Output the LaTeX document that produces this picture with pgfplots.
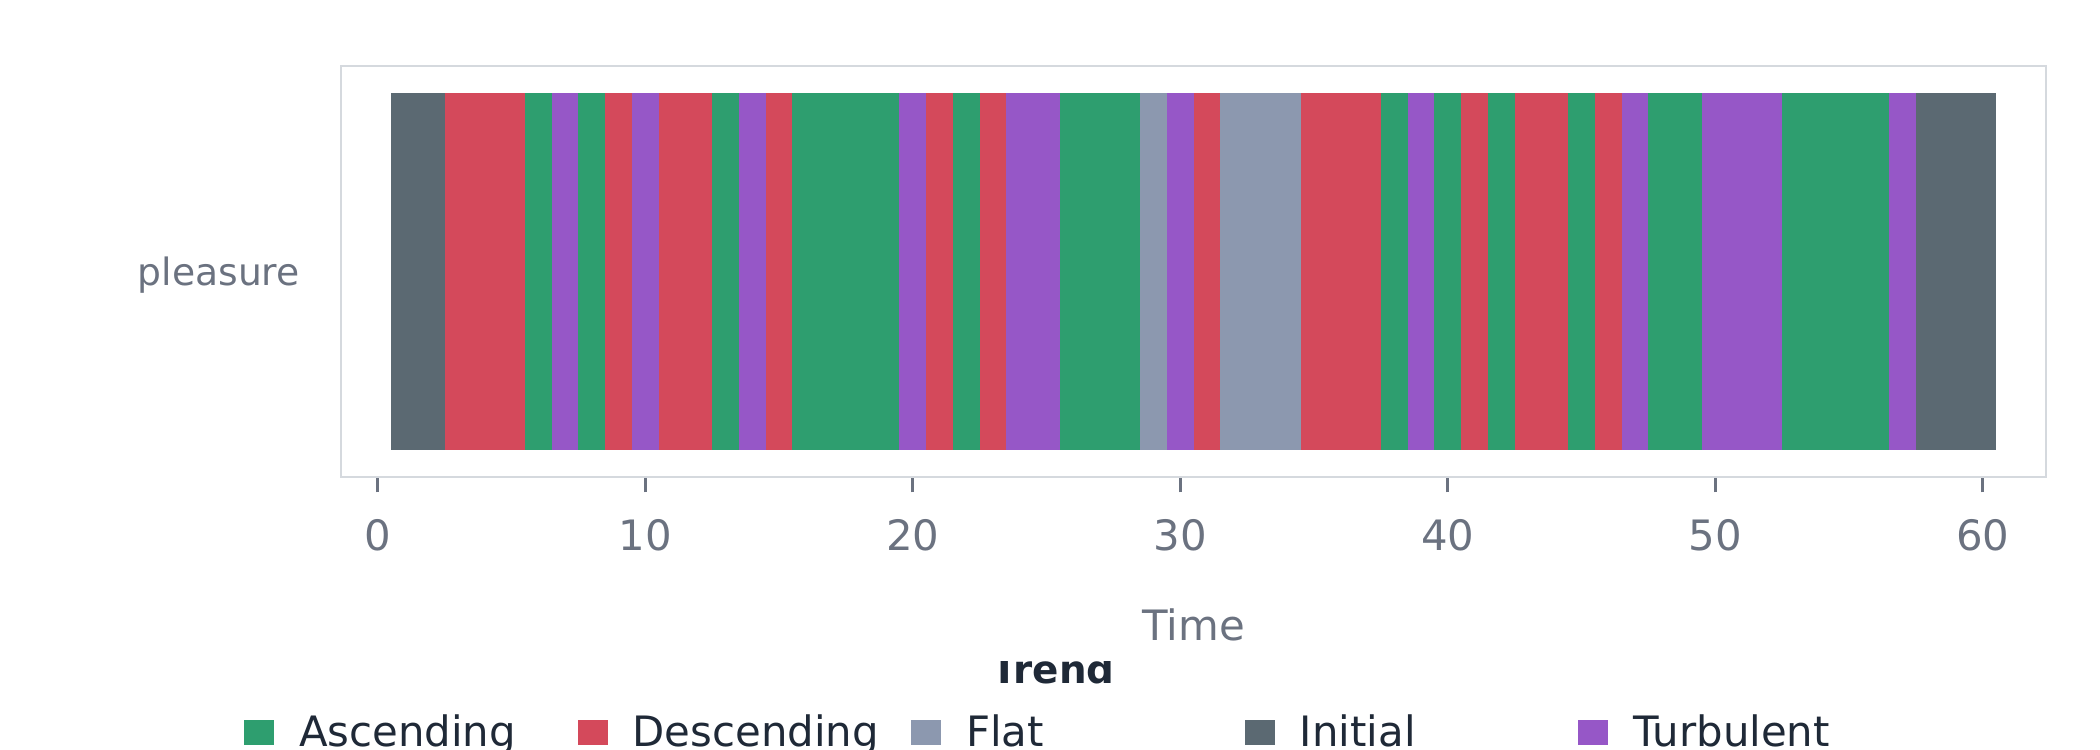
\documentclass[border=0pt]{standalone}
\usepackage{pgfplots}
\pgfplotsset{compat=1.18}
\usepackage{fontspec}
\setmainfont{DejaVu Sans}
\definecolor{asc}{HTML}{2E9E6F}
\definecolor{desc}{HTML}{D4495B}
\definecolor{flat}{HTML}{8C98AF}
\definecolor{init}{HTML}{5B6972}
\definecolor{turb}{HTML}{9657C7}
\definecolor{framegray}{HTML}{D5D9DE}
\definecolor{tickgray}{HTML}{6B7280}
\definecolor{textdark}{HTML}{1F2937}
\pgfplotsset{sqlegend/.style={legend image code/.code={\path[##1,draw=none] (0bp,-4.15bp) rectangle (10bp,4.15bp);}}}
\newcommand{\seg}[2]{\addplot[fill=#1,draw=none] coordinates {(#2,0)};}
\begin{document}
\begin{tikzpicture}
\path[use as bounding box] (0bp,0bp) rectangle (700bp,250bp);
\begin{scope}
\clip (0bp,0bp) rectangle (700bp,29.4bp);
\node[font=\bfseries\fontsize{13}{15}\selectfont, text=textdark, anchor=base, inner sep=0pt] at (351bp,22.2bp) {Trend};
\end{scope}
\begin{axis}[
  at={(113.8bp,90.9bp)}, anchor=south west,
  scale only axis, width=568.1bp, height=137.2bp,
  xbar stacked, bar width=0.869,
  xmin=-1.357, xmax=62.357, ymin=-0.5, ymax=0.5,
  axis line style={draw=framegray, line width=0.7bp},
  xtick={0,10,20,30,40,50,60},
  ytick={0}, yticklabels={pleasure},
  xtick pos=bottom, ytick pos=left,
  tick align=outside,
  major tick length=5bp,
  x tick style={draw=tickgray, line width=0.9bp},
  y tick style={draw=none},
  /pgf/number format/assume math mode=true,
  xticklabel style={font=\fontsize{14}{16}\selectfont, text=tickgray, anchor=base, inner sep=0pt, yshift=-19.3bp},
  yticklabel style={font=\fontsize{12.6}{15}\selectfont, text=tickgray, anchor=east, inner sep=0pt, xshift=-8.7bp, yshift=-1.3bp},
  xlabel={Time},
  xlabel style={font=\fontsize{14}{16}\selectfont, text=tickgray, at={(axis description cs:0.5,0)}, anchor=base, inner sep=0pt, yshift=-54.5bp},
  legend columns=5,
  legend style={draw=none, fill=none, inner sep=0pt, outer sep=0pt,
    nodes={inner sep=0pt, text=textdark, font=\fontsize{14}{16}\selectfont},
    column sep=0pt,
    /tikz/every odd column/.append style={column sep=8.4bp},
    at={(axis description cs:-0.0572,-0.6203)}, anchor=west},
  legend entries={\makebox[92.8bp][l]{Ascending},\makebox[92.8bp][l]{Descending},\makebox[92.8bp][l]{Flat},\makebox[92.8bp][l]{Initial},\makebox[92.8bp][l]{Turbulent}},
]
\addlegendimage{sqlegend, fill=asc}
\addlegendimage{sqlegend, fill=desc}
\addlegendimage{sqlegend, fill=flat}
\addlegendimage{sqlegend, fill=init}
\addlegendimage{sqlegend, fill=turb}
\addplot[fill=none,draw=none] coordinates {(0.5,0)};
\seg{init}{2}
\seg{desc}{3}
\seg{asc}{1}
\seg{turb}{1}
\seg{asc}{1}
\seg{desc}{1}
\seg{turb}{1}
\seg{desc}{2}
\seg{asc}{1}
\seg{turb}{1}
\seg{desc}{1}
\seg{asc}{4}
\seg{turb}{1}
\seg{desc}{1}
\seg{asc}{1}
\seg{desc}{1}
\seg{turb}{2}
\seg{asc}{3}
\seg{flat}{1}
\seg{turb}{1}
\seg{desc}{1}
\seg{flat}{3}
\seg{desc}{3}
\seg{asc}{1}
\seg{turb}{1}
\seg{asc}{1}
\seg{desc}{1}
\seg{asc}{1}
\seg{desc}{2}
\seg{asc}{1}
\seg{desc}{1}
\seg{turb}{1}
\seg{asc}{2}
\seg{turb}{3}
\seg{asc}{4}
\seg{turb}{1}
\seg{init}{3}
\end{axis}
\end{tikzpicture}
\end{document}
